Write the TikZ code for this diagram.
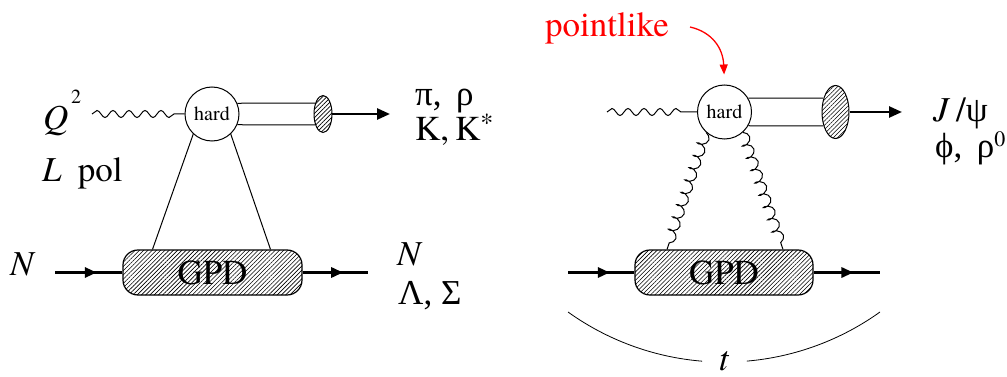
\documentclass[tikz,border=0pt]{standalone}
\usepackage{fontspec}
\setmainfont{texgyretermes}[Extension=.otf, UprightFont=*-regular, ItalicFont=*-italic, BoldFont=*-bold, BoldItalicFont=*-bolditalic]
\newfontfamily\grk{Liberation Serif}
\usetikzlibrary{arrows.meta,decorations.pathmorphing,decorations.markings,patterns.meta,shapes.geometric,calc}
\tikzset{
  big/.style={font=\fontsize{35}{40}\selectfont, inner sep=0pt},
  hardnode/.style={circle, draw, line width=1pt, minimum size=54pt, inner sep=0pt, fill=white, font=\fontsize{20}{20}\selectfont},
  hatch/.style={pattern={Lines[angle=45,distance=3pt,line width=0.6pt]}, preaction={fill=white}},
  gpd/.style={draw, line width=1.2pt, rounded corners=15pt, minimum width=179pt, minimum height=45pt, inner sep=0pt, hatch, font=\fontsize{35}{40}\selectfont},
  blob/.style={ellipse, draw, line width=1pt, inner sep=0pt, hatch},
  photon/.style={decorate, decoration={snake, segment length=16pt, amplitude=3.5pt, post length=10pt}, line width=1pt},
  gluon/.style={decorate, decoration={coil, aspect=0.6, segment length=13pt, amplitude=5pt}, line width=1pt},
  fermion/.style={line width=3pt, postaction={decorate}, decoration={markings, mark=at position #1 with {\arrow{Triangle[length=12pt,width=10pt]}}}},
  fermion/.default=0.62,
  outline/.style={line width=2.5pt, -{Triangle[length=13pt,width=11pt]}},
  thinline/.style={line width=1pt},
}
\begin{document}
\begin{tikzpicture}[x=1pt,y=-1pt]
\useasboundingbox (0,0) rectangle (1007,377);
% ---------- left diagram ----------
\node[hardnode] (h1) at (212,114) {hard};
\node[blob, minimum width=18pt, minimum height=37pt] (e1) at (323,114) {};
\node[gpd] (g1) at (212.5,272.5) {GPD};
\coordinate (p1) at (92,114);
\coordinate (a1) at (390,114);
\coordinate (n1a) at (55,272.5);
\coordinate (n1b) at (368,272.5);
\draw[photon] (p1) -- (h1.west);
\draw[thinline] (h1.23) -- (e1.125);
\draw[thinline] (h1.-23) -- (e1.235);
\draw[outline] (e1.east) -- (a1);
\draw[thinline] (h1.227) -- ($(g1.north)+(-60,0)$);
\draw[thinline] (h1.313) -- ($(g1.north)+(58,0)$);
\draw[fermion=0.62] (n1a) -- (g1.west);
\draw[fermion=0.62] (g1.east) -- (n1b);
\node[big, anchor=base west] (q) at (43,130) {\textit{Q}};
\node[anchor=base west, inner sep=0pt, font=\fontsize{20}{20}\selectfont] (q2) at (71,104) {2};
\node[big, anchor=base west] (lpol) at (42,182) {\textit{L}\hspace{16pt}pol};
\node[big, anchor=base west] (m1) at (415,106) {\grk π,\ \,ρ};
\node[big, anchor=base west] (m2) at (415,141) {K,\,K\raisebox{9pt}{\fontsize{26}{26}\selectfont *}};
\node[big, anchor=base west] (nl) at (10,275) {\textit{N}};
\node[big, anchor=base west] (nr) at (397,265) {\textit{N}};
\node[big, anchor=base west] (ls) at (398,304) {\grk Λ, Σ};
% ---------- right diagram ----------
\node[hardnode] (h2) at (724.5,112) {hard};
\node[blob, minimum width=27pt, minimum height=53pt] (e2) at (835.5,112) {};
\node[gpd, minimum width=178pt] (g2) at (724,272.5) {GPD};
\coordinate (p2) at (607,112);
\coordinate (a2) at (902,112);
\coordinate (n2a) at (568,272.5);
\coordinate (n2b) at (880,272.5);
\draw[photon] (p2) -- (h2.west);
\draw[thinline] (h2.30) -- (e2.131);
\draw[thinline] (h2.-30) -- (e2.229);
\draw[outline] (e2.east) -- (a2);
\draw[gluon] (h2.228) -- ($(g2.north)+(-57,0)$);
\draw[gluon] (h2.312) -- ($(g2.north)+(59,0)$);
\draw[fermion=0.63] (n2a) -- (g2.west);
\draw[fermion=0.6] (g2.east) -- (n2b);
\node[big, anchor=base west, text=red] (pl) at (545,37) {pointlike};
\coordinate (rs) at (690,27);
\draw[red, line width=1.3pt, -{Triangle[length=10pt,width=8pt]}, shorten >=10pt] (rs) .. controls (712,32) and (723,48) .. (h2.north);
\node[big, anchor=base west] (jpsi) at (933,122) {\textit{J}\,/{\grk ψ}};
\node[big, anchor=base west] (phi) at (935,158) {{\grk ϕ,\ \,ρ}\raisebox{11pt}{\fontsize{22}{22}\selectfont 0}};
\coordinate (tl) at (568,312);
\coordinate (tr) at (880,312);
\draw[line width=0.8pt] (tl) arc[start angle=125.6, end angle=94.7, radius=268];
\draw[line width=0.8pt] (tr) arc[start angle=54.4, end angle=85.1, radius=268];
\node[big] (t) at (724,361) {\textit{t}};
\end{tikzpicture}
\end{document}
